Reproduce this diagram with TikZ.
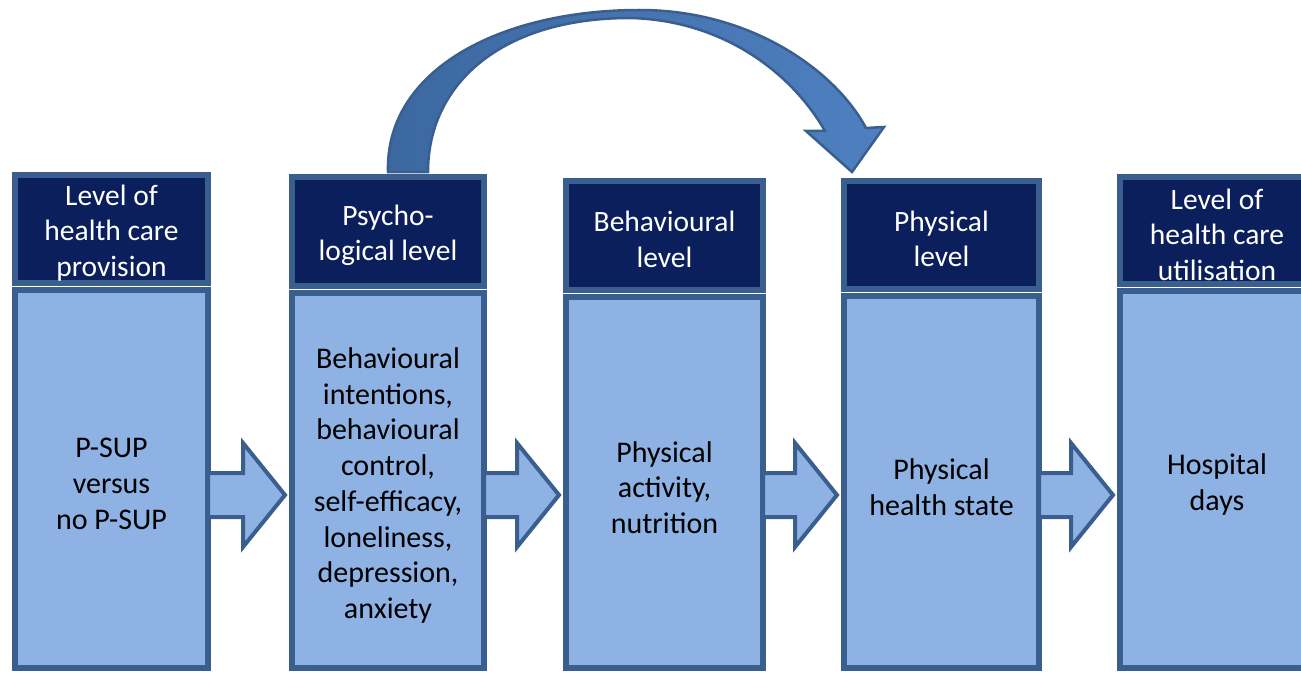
\documentclass[tikz,border=0pt]{standalone}
\usepackage{fontspec}
\setmainfont{Carlito}
\usetikzlibrary{calc}

\definecolor{hdrfill}{RGB}{11,31,92}
\definecolor{edgeblue}{RGB}{58,95,143}
\definecolor{bodyfill}{RGB}{142,178,227}
\definecolor{arcleft}{RGB}{60,104,160}
\definecolor{arcright}{RGB}{78,128,192}

\tikzset{
  colbox/.style={rectangle, draw=edgeblue, line width=6pt, outer sep=0pt},
  hdr/.style={colbox, fill=hdrfill},
  bodybox/.style={colbox, fill=bodyfill},
  hdrtext/.style={align=center, inner sep=0pt, text=white,
    font=\fontsize{29.5}{35.5}\selectfont},
  bodytext/.style={align=center, inner sep=0pt, text=black,
    font=\fontsize{30}{35.7}\selectfont},
  blockarr/.style={draw=edgeblue, line width=4pt, fill=bodyfill, line join=miter},
  arcarr/.style={draw=edgeblue, line width=2.5pt, left color=arcleft, right color=arcright}
}

\begin{document}
\begin{tikzpicture}[x=1pt, y=-1pt]
    \useasboundingbox (0,0) rectangle (1301,674);

    % Five columns: header on top, body below
    \foreach \n/\xl/\xr/\yt/\yh/\hd/\bd in {
      1/12/211/172/283/{Level of\\health care\\provision}/{P-SUP\\versus\\no P-SUP},
      2/289/487/174/286/{Psycho-\\logical level}/{Behavioural\\intentions,\\behavioural\\control,\\self-efficacy,\\loneliness,\\depression,\\anxiety},
      3/563/766/178/290/{Behavioural\\level}/{Physical\\activity,\\nutrition},
      4/841/1042/178/289/{Physical\\level}/{Physical\\health state},
      5/1117/1317/174/284/{Level of\\health care\\utilisation}/{Hospital\\days}}
    {
      \node[hdr, minimum width={\xr-\xl-6}, minimum height={\yh-\yt-3},
        label={[hdrtext, yshift=-4pt, name=hdrlab\n]center:{\hd}}]
        (hdr\n) at ({(\xl+\xr)/2},{(\yt+3+\yh)/2}) {};
      \node[bodybox, minimum width={\xr-\xl-6}, minimum height={668-\yh-7},
        label={[bodytext, yshift=-5pt, name=bodylab\n]center:{\bd}}]
        (b\n) at ({(\xl+\xr)/2},{(\yh+7+668)/2}) {};
    }

    % Block arrows between the bodies
    \coordinate (ay) at (0,495);
    \foreach \a/\b in {1/2,2/3,3/4,4/5} {
      \coordinate (s) at (b\a.east |- ay);
      \coordinate (t) at ($(b\b.west |- ay)+(-7,0)$);
      \draw[blockarr] ($(s)+(0,-22)$) -- ($(t)+(-42,-22)$) -- ($(t)+(-42,-52)$)
        -- (t) -- ($(t)+(-42,52)$) -- ($(t)+(-42,22)$) -- ($(s)+(0,22)$) -- cycle;
    }

    % Curved arrow from psychological to physical level
    \coordinate (arcfoot) at ($(hdr2.north)+(0,-5)$);
    \coordinate (arctip) at ($(hdr4.north west)+(8,-9)$);
    \draw[arcarr] (arcfoot) .. controls (385,70) and (500,10) .. (640,10)
      .. controls (750,10) and (835,70) .. (866,128) -- (884,127) -- (arctip)
      -- (806,131) -- (825,131) .. controls (790,70) and (720,20) .. (630,18)
      .. controls (500,18) and (428,85) .. ($(arcfoot)+(40,0)$) -- cycle;
\end{tikzpicture}
\end{document}
